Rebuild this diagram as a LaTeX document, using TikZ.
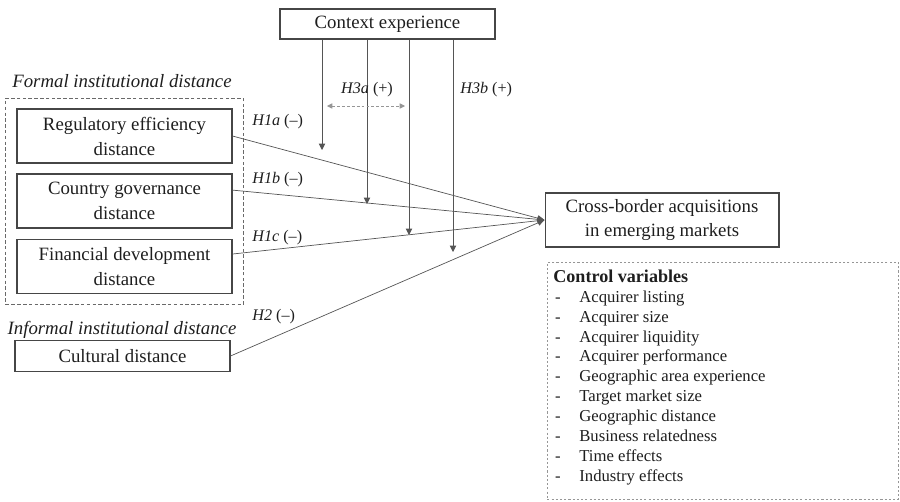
\documentclass[tikz,border=0pt]{standalone}
\usepackage{fontspec}
\setmainfont{Liberation Serif}
\usetikzlibrary{arrows.meta,positioning,fit}
\definecolor{boxgray}{RGB}{70,70,70}
\definecolor{linegray}{RGB}{85,85,85}
\definecolor{dashgray}{RGB}{105,105,105}
\definecolor{ctrlgray}{RGB}{150,150,150}
\definecolor{textgray}{RGB}{30,30,30}

\begin{document}
\begin{tikzpicture}[x=0.02cm, y=-0.02cm,
  var/.style={draw=boxgray, semithick, minimum width=4.3cm, minimum height=1.08cm, align=center, text=textgray, font=\fontsize{10.7}{14.2}\selectfont},
  grp/.style={text=textgray, inner sep=0pt, font=\fontsize{10.7}{13}\selectfont\itshape},
  hyp/.style={text=textgray, inner sep=0pt, font=\fontsize{9.2}{11}\selectfont},
  arrow/.style={-{Triangle[length=4pt,width=3.4pt]}, thin, linegray},
  mod/.style={-{Triangle[length=3.6pt,width=3.6pt]}, thin, linegray},
  frame/.style={draw=dashgray, semithick, dash pattern=on 2pt off 1.3pt}
]
  \useasboundingbox (0,0) rectangle (900,501);

  % moderator and outcome
  \node[var, minimum height=0.6cm] (ctx) at (387.5,24) {Context experience};
  \node[var, minimum width=4.68cm] (acq) at (662,220) {Cross-border acquisitions\\in emerging markets};

  % formal distances
  \node[var] (reg) at (124.5,136) {Regulatory efficiency\\distance};
  \node[var] (gov) at (124.5,201) {Country governance\\distance};
  \node[var] (fin) at (124.5,266.5) {Financial development\\distance};
  \node[frame, fit=(reg)(fin), inner xsep=6.2pt, inner ysep=5.8pt] (formal) {};
  \node[grp] (formallbl) at (122,81) {Formal institutional distance};

  % informal distance
  \node[grp] (informallbl) at (122,330) {Informal institutional distance};
  \node[var, minimum height=0.62cm] (cult) at (122.5,356) {Cultural distance};

  % main effects
  \draw[arrow] (reg.east) -- (acq.west);
  \draw[arrow] ([yshift=6.2pt]gov.east) -- (acq.west);
  \draw[arrow] ([yshift=7.1pt]fin.east) -- (acq.west);
  \draw[arrow] (cult.east) -- (acq.west);
  \node[hyp, anchor=west] (h1a) at (252,122) {\textit{H1a} (--)};
  \node[hyp, anchor=west] (h1b) at (252,180) {\textit{H1b} (--)};
  \node[hyp, anchor=west] (h1c) at (252,238) {\textit{H1c} (--)};
  \node[hyp, anchor=west] (h2) at (252,317) {\textit{H2} (--)};

  % moderating effects
  \coordinate (m1) at (322,150);
  \coordinate (m2) at (367,204);
  \coordinate (m3) at (409,235);
  \coordinate (m4) at (453,252);
  \foreach \m in {m1,m2,m3,m4}
    \draw[mod] (ctx.south -| \m) -- (\m);
  \coordinate (d1) at (327,106);
  \coordinate (d2) at (405,106);
  \draw[{Triangle[length=3pt,width=3pt]}-{Triangle[length=3pt,width=3pt]}, ctrlgray, thin, dash pattern=on 1.6pt off 1.2pt] (d1) -- (d2);
  \node[hyp] (h3a) at (367,90) {\textit{H3a} (+)};
  \node[hyp, anchor=west] (h3b) at (460,90) {\textit{H3b} (+)};

  % controls
  \node[draw=ctrlgray, thin, dash pattern=on 1.2pt off 1.2pt, anchor=north west, minimum width=7.02cm, minimum height=4.74cm] (ctrl) at (547,262) {};
  \node[anchor=north west, inner sep=0pt, align=left, text=textgray, font=\fontsize{9.5}{11.34}\selectfont] (ctrltxt) at (553,268) {%
    \begin{tabular}{@{}p{14.8pt}@{}l@{}}
      \multicolumn{2}{@{}l@{}}{\fontsize{10.3}{11.34}\selectfont\bfseries Control variables}\\
      \hspace{1pt}- & Acquirer listing\\
      \hspace{1pt}- & Acquirer size\\
      \hspace{1pt}- & Acquirer liquidity\\
      \hspace{1pt}- & Acquirer performance\\
      \hspace{1pt}- & Geographic area experience\\
      \hspace{1pt}- & Target market size\\
      \hspace{1pt}- & Geographic distance\\
      \hspace{1pt}- & Business relatedness\\
      \hspace{1pt}- & Time effects\\
      \hspace{1pt}- & Industry effects
    \end{tabular}};
\end{tikzpicture}
\end{document}
